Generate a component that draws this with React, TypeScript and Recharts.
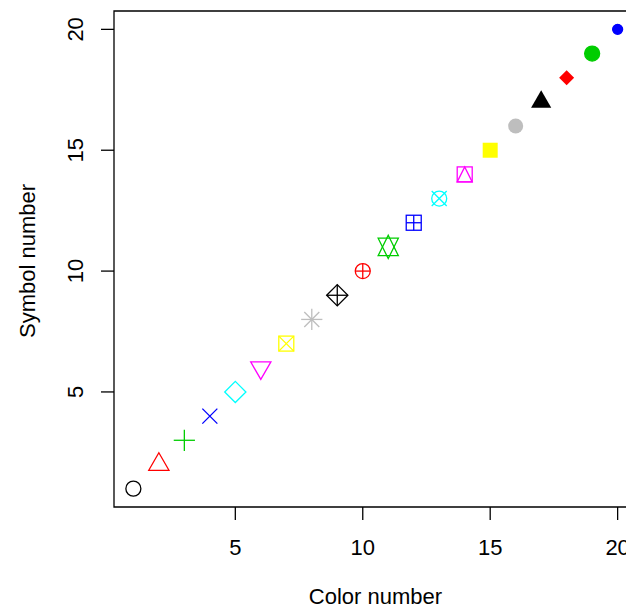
import * as React from "react";
import {
  ScatterChart,
  Scatter,
  XAxis,
  YAxis,
  ReferenceArea,
  Label,
} from "recharts";

// colour index 1..20 (x) against plotting symbol 1..20 (y)
const colorNumber = [1, 2, 3, 4, 5, 6, 7, 8, 9, 10, 11, 12, 13, 14, 15, 16, 17, 18, 19, 20];
const symbolNumber = [1, 2, 3, 4, 5, 6, 7, 8, 9, 10, 11, 12, 13, 14, 15, 16, 17, 18, 19, 20];

// classic 8-colour palette, recycled over the 20 points
const pointColors = [
  "#000000", "#FF0000", "#00CD00", "#0000FF", "#00FFFF", "#FF00FF", "#FFFF00", "#BEBEBE",
  "#000000", "#FF0000", "#00CD00", "#0000FF", "#00FFFF", "#FF00FF", "#FFFF00", "#BEBEBE",
  "#000000", "#FF0000", "#00CD00", "#0000FF",
];

const xTicks = [5, 10, 15, 20];
const yTicks = [5, 10, 15, 20];
const axisLimits: [number, number] = [0.24, 20.76];

const FONT = '"Liberation Sans", Arial, Helvetica, sans-serif';
const FONT_SIZE = 22;
const RAD = 7.5;
const LWD = 1.3;

const TRC0 = 1.5551203;
const TRC1 = 1.34677368;
const TRC2 = 0.77756015;

type Pt = { x: number; y: number; pch: number; col: string };

const points: Pt[] = colorNumber.map((c, i) => ({
  x: c,
  y: symbolNumber[i],
  pch: symbolNumber[i],
  col: pointColors[i],
}));

function poly(pts: [number, number][]) {
  return pts.map((p) => p.join(",")).join(" ");
}

function PchMark({ cx, cy, pch, col }: { cx: number; cy: number; pch: number; col: string }) {
  const r = RAD;
  const open = { stroke: col, strokeWidth: LWD, fill: "none" };
  const s2 = Math.SQRT2 * r;
  const triUp = (): [number, number][] => [
    [cx, cy - TRC0 * r],
    [cx + TRC1 * r, cy + TRC2 * r],
    [cx - TRC1 * r, cy + TRC2 * r],
  ];
  const triDown: [number, number][] = [
    [cx, cy + TRC0 * r],
    [cx + TRC1 * r, cy - TRC2 * r],
    [cx - TRC1 * r, cy - TRC2 * r],
  ];
  const diamond = (h: number) =>
    poly([
      [cx, cy - h],
      [cx + h, cy],
      [cx, cy + h],
      [cx - h, cy],
    ]);
  const plus = (h: number) => (
    <>
      <line x1={cx - h} y1={cy} x2={cx + h} y2={cy} {...open} />
      <line x1={cx} y1={cy - h} x2={cx} y2={cy + h} {...open} />
    </>
  );
  const cross = (h: number) => (
    <>
      <line x1={cx - h} y1={cy - h} x2={cx + h} y2={cy + h} {...open} />
      <line x1={cx - h} y1={cy + h} x2={cx + h} y2={cy - h} {...open} />
    </>
  );
  const square = <rect x={cx - r} y={cy - r} width={2 * r} height={2 * r} {...open} />;

  switch (pch) {
    case 1:
      return <circle cx={cx} cy={cy} r={r} {...open} />;
    case 2:
      return <polygon points={poly(triUp())} {...open} />;
    case 3:
      return <g>{plus(s2)}</g>;
    case 4:
      return <g>{cross(r)}</g>;
    case 5:
      return <polygon points={diamond(s2)} {...open} />;
    case 6:
      return <polygon points={poly(triDown)} {...open} />;
    case 7:
      return (
        <g>
          {square}
          {cross(r)}
        </g>
      );
    case 8:
      return (
        <g>
          {cross(r)}
          {plus(s2)}
        </g>
      );
    case 9:
      return (
        <g>
          <polygon points={diamond(s2)} {...open} />
          {plus(s2)}
        </g>
      );
    case 10:
      return (
        <g>
          <circle cx={cx} cy={cy} r={r} {...open} />
          {plus(r)}
        </g>
      );
    case 11: {
      const apex = TRC0 * r;
      const base = 0.5 * (TRC2 + TRC0) * r;
      const hw = TRC1 * r;
      return (
        <g>
          <polygon points={poly([[cx, cy - apex], [cx + hw, cy + base], [cx - hw, cy + base]])} {...open} />
          <polygon points={poly([[cx, cy + apex], [cx + hw, cy - base], [cx - hw, cy - base]])} {...open} />
        </g>
      );
    }
    case 12:
      return (
        <g>
          {square}
          {plus(r)}
        </g>
      );
    case 13:
      return (
        <g>
          <circle cx={cx} cy={cy} r={r} {...open} />
          {cross(r)}
        </g>
      );
    case 14:
      return (
        <g>
          {square}
          <polygon points={poly([[cx - r, cy + r], [cx, cy - r], [cx + r, cy + r]])} {...open} />
        </g>
      );
    case 15:
      return <rect x={cx - r} y={cy - r} width={2 * r} height={2 * r} fill={col} />;
    case 16:
      return <circle cx={cx} cy={cy} r={r} fill={col} />;
    case 17:
      return <polygon points={poly(triUp())} fill={col} />;
    case 18:
      return <polygon points={diamond(r)} fill={col} />;
    case 19:
      return <circle cx={cx} cy={cy} r={r} fill={col} stroke={col} strokeWidth={LWD} />;
    case 20:
      return <circle cx={cx} cy={cy} r={(2 * r) / 3} fill={col} stroke={col} strokeWidth={LWD} />;
    default:
      return <g />;
  }
}

function renderPoint(props: any) {
  const p: Pt = props.payload;
  return <PchMark cx={props.cx} cy={props.cy} pch={p.pch} col={p.col} />;
}

function XTick(props: any) {
  const { x, y, payload } = props;
  return (
    <text x={x} y={y + 35} textAnchor="middle" fontFamily={FONT} fontSize={FONT_SIZE} fill="#000">
      {payload.value}
    </text>
  );
}

function YTick(props: any) {
  const { x, y, payload } = props;
  const bx = x - 18;
  return (
    <text
      x={bx}
      y={y}
      transform={`rotate(-90, ${bx}, ${y})`}
      textAnchor="middle"
      fontFamily={FONT}
      fontSize={FONT_SIZE}
      fill="#000"
    >
      {payload.value}
    </text>
  );
}

export default function App() {
  return (
    <div
      style={{
        position: "absolute",
        left: 0,
        top: 0,
        width: 626,
        height: 608,
        overflow: "hidden",
        background: "#fff",
      }}
    >
      <ScatterChart
        width={644}
        height={608}
        margin={{ top: 11, right: 7, bottom: 0, left: 0 }}
      >
        <XAxis
          type="number"
          dataKey="x"
          domain={axisLimits}
          ticks={xTicks}
          allowDataOverflow
          height={101}
          axisLine={false}
          tickLine={{ stroke: "#000", strokeWidth: LWD }}
          tickSize={13}
          tickMargin={0}
          tick={<XTick />}
        >
          <Label
            content={(p: any) => {
              const vb = p.viewBox;
              return (
                <text
                  x={vb.x + vb.width / 2}
                  y={604}
                  textAnchor="middle"
                  fontFamily={FONT}
                  fontSize={FONT_SIZE}
                  fill="#000"
                >
                  Color number
                </text>
              );
            }}
          />
        </XAxis>
        <YAxis
          type="number"
          dataKey="y"
          domain={axisLimits}
          ticks={yTicks}
          allowDataOverflow
          width={114}
          axisLine={false}
          tickLine={{ stroke: "#000", strokeWidth: LWD }}
          tickSize={13}
          tickMargin={0}
          tick={<YTick />}
        >
          <Label
            content={(p: any) => {
              const vb = p.viewBox;
              const cy = vb.y + vb.height / 2 + 2;
              return (
                <text
                  x={35}
                  y={cy}
                  transform={`rotate(-90, 35, ${cy})`}
                  textAnchor="middle"
                  fontFamily={FONT}
                  fontSize={FONT_SIZE}
                  fill="#000"
                >
                  Symbol number
                </text>
              );
            }}
          />
        </YAxis>
        <ReferenceArea
          x1={axisLimits[0]}
          x2={axisLimits[1]}
          y1={axisLimits[0]}
          y2={axisLimits[1]}
          fill="none"
          fillOpacity={0}
          stroke="#000"
          strokeWidth={LWD}
          ifOverflow="visible"
        />
        <Scatter data={points} shape={renderPoint} isAnimationActive={false} />
      </ScatterChart>
    </div>
  );
}
